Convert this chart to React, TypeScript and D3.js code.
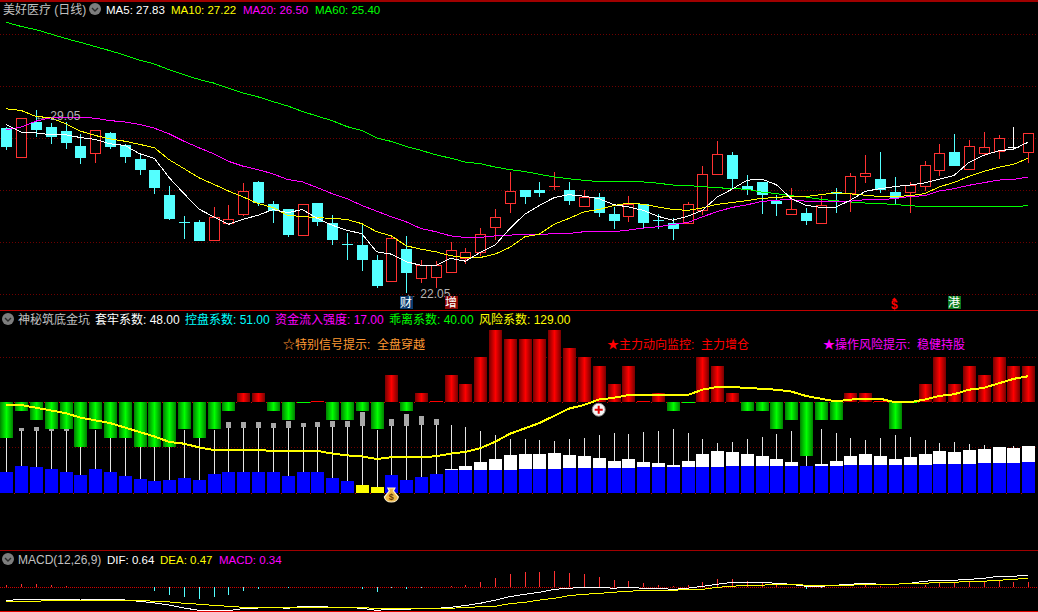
import React from "react";
import * as d3 from "d3";

// ---------- price panel (yuan) ----------
const open = [28.36,27.26,28.59,28.40,28.28,27.67,27.41,28.17,27.71,27.17,26.75,25.80,24.79,24.77,24.05,24.71,25.05,26.29,25.45,25.26,24.24,25.49,24.73,23.94,23.89,23.31,22.49,23.73,22.60,22.64,22.83,23.38,23.59,24.56,25.47,25.99,25.99,26.12,25.99,25.38,25.72,25.07,24.97,25.45,24.84,24.75,24.73,25.20,26.61,27.33,26.14,26.29,25.57,25.05,25.11,24.73,25.91,25.86,26.50,26.41,25.91,25.92,26.12,26.73,27.44,26.80,27.38,27.49,27.66,27.45];
const high = [28.43,28.73,29.05,28.56,28.59,28.13,28.27,28.24,27.78,27.33,26.75,26.14,24.99,24.84,25.34,25.41,26.26,26.33,25.57,25.26,25.44,25.49,25.03,24.34,24.71,23.50,24.24,24.23,23.31,23.26,24.00,23.77,24.54,25.26,26.68,25.99,26.29,26.68,26.29,25.99,25.87,25.34,25.76,25.45,25.07,24.92,25.53,26.91,27.86,27.44,26.56,26.29,25.80,26.06,25.30,25.76,26.06,26.64,27.36,27.44,26.49,26.29,27.10,27.75,28.13,27.90,28.24,28.09,28.43,28.15];
const low = [27.52,27.26,28.05,27.78,27.56,26.98,27.02,27.59,27.02,26.56,25.84,24.84,24.12,24.04,24.05,24.69,24.99,25.38,24.73,24.19,24.24,24.61,23.89,23.31,22.89,22.24,22.49,22.05,22.43,22.24,22.83,23.16,23.47,24.08,25.11,25.45,25.72,25.99,25.41,25.34,24.96,24.50,24.77,24.54,24.50,24.08,24.69,25.03,26.61,26.03,25.80,25.07,24.99,25.05,24.65,24.73,25.11,25.15,26.26,25.87,25.45,25.11,25.95,26.52,26.91,26.80,27.29,27.17,27.62,27.02];
const close = [27.63,28.73,28.31,28.05,27.82,27.21,28.27,27.63,27.25,26.75,26.06,24.88,24.78,24.04,24.94,24.87,25.95,25.49,25.19,24.27,25.44,24.77,24.08,23.90,23.31,22.32,24.14,22.82,23.11,23.11,23.68,23.61,24.29,24.96,25.95,25.72,25.87,26.14,25.57,25.71,25.11,24.80,25.44,24.73,24.82,24.50,25.44,26.60,27.35,26.41,25.99,25.80,25.45,25.25,24.80,25.40,25.84,26.51,26.62,25.99,25.68,26.17,26.93,27.39,26.91,27.67,27.62,27.96,27.66,28.15];
const ma5 = [28.50,28.22,28.19,28.12,28.12,28.01,27.94,27.77,27.71,27.39,27.21,26.47,25.86,25.27,24.97,24.68,24.88,25.03,25.25,25.13,25.25,24.91,24.65,24.45,24.33,23.63,23.54,23.25,23.11,23.10,23.38,23.27,23.61,23.89,24.52,25.07,25.41,25.71,25.82,25.76,25.67,25.44,25.35,25.22,24.99,24.84,24.99,25.22,25.73,26.03,26.37,26.42,26.20,25.67,25.41,25.33,25.34,25.61,25.95,26.05,26.13,26.19,26.27,26.41,26.56,27.06,27.33,27.50,27.57,27.83];
const ma10 = [29.11,29.05,28.82,28.77,28.54,28.26,28.09,27.96,27.87,27.75,27.62,27.16,26.82,26.47,26.22,25.96,25.73,25.48,25.33,25.03,24.98,24.94,24.91,24.87,24.71,24.40,24.24,23.86,23.73,23.63,23.48,23.40,23.41,23.54,23.80,24.20,24.31,24.69,24.91,25.16,25.25,25.40,25.50,25.45,25.35,25.25,25.22,25.31,25.45,25.52,25.59,25.68,25.71,25.76,25.75,25.82,25.90,25.85,25.80,25.75,25.75,25.78,25.86,26.12,26.29,26.52,26.71,26.87,26.98,27.22];
const ma20 = [28.31,28.41,28.64,28.77,28.77,28.79,28.75,28.66,28.61,28.51,28.37,28.15,27.87,27.62,27.39,27.10,26.91,26.78,26.62,26.40,26.31,26.09,25.86,25.67,25.41,25.19,24.97,24.78,24.52,24.40,24.24,24.18,24.18,24.24,24.27,24.29,24.29,24.33,24.33,24.40,24.40,24.40,24.46,24.54,24.59,24.68,24.75,24.97,25.17,25.33,25.43,25.56,25.61,25.63,25.57,25.56,25.57,25.57,25.63,25.63,25.67,25.75,25.78,25.96,26.05,26.18,26.28,26.38,26.40,26.50];
const ma60 = [32.43,32.27,32.15,31.98,31.81,31.66,31.50,31.34,31.17,30.98,30.83,30.61,30.42,30.24,30.10,29.90,29.72,29.57,29.39,29.22,29.01,28.83,28.66,28.43,28.28,28.00,27.86,27.67,27.52,27.35,27.22,27.07,27.01,26.88,26.78,26.71,26.60,26.50,26.43,26.37,26.32,26.32,26.32,26.31,26.26,26.19,26.17,26.13,26.09,26.05,26.03,25.92,25.86,25.78,25.73,25.64,25.59,25.54,25.50,25.48,25.44,25.40,25.36,25.36,25.36,25.36,25.36,25.36,25.36,25.40];
const priceGrid = [32,30,28,26,24,22];

// ---------- signal panel ----------
const signal = [-40,-10,-20,-30,-30,-50,-30,-40,-40,-50,-50,-50,-30,-40,-30,-10,10,10,-10,-20,-1,1,-20,-20,-10,-30,30,-10,10,1,30,20,50,80,70,70,70,80,60,50,40,20,40,1,10,-10,-1,50,40,10,-10,-10,-30,-20,-60,-20,-20,10,10,1,-30,-1,20,50,20,40,30,50,40,40];
const blueTop = [-77,-71,-72,-74,-77,-81,-74,-77,-82,-85,-87,-86,-84,-86,-80,-77,-77,-77,-77,-82,-77,-77,-84,-87,-92,-94,-81,-86,-83,-80,-75,-75,-75,-75,-75,-74,-74,-74,-73,-73,-73,-73,-73,-72,-72,-72,-72,-72,-72,-71,-71,-71,-71,-71,-71,-71,-71,-70,-70,-70,-70,-70,-70,-69,-69,-69,-67,-67,-67,-66];
const whiteTop: (number | null)[] = [null,null,null,null,null,null,null,null,null,null,null,null,null,null,null,null,null,null,null,null,null,null,null,null,null,null,null,null,null,null,-74,-71,-66,-63,-59,-57,-57,-56,-59,-60,-62,-65,-63,-66,-67,-70,-65,-57,-54,-55,-57,-60,-63,-66,null,-69,-65,-60,-57,-60,-63,-61,-57,-54,-55,-53,-52,-50,-51,-49];
const stickTop = [-31,-32,-32,-32,-32,-31,-31,-31,-31,-31,-31,-31,-31,-31,-31,-29,-29,-29,-29,-29,-27,-27,-27,-27,-26,-31,-26,-26,-25,-25,-25,-27,-32,-36,-41,-41,-42,-43,-41,-40,-36,-34,-35,-33,-32,-30,-34,-41,-45,-44,-41,-39,-35,-32,-31,-30,-34,-40,-42,-40,-36,-39,-42,-45,-44,-46,-47,-50,-49,-49];
const boxTop: (number | null)[] = [null,-29,-27,-29,-29,null,null,null,null,null,null,null,null,null,null,-22,-22,-22,-23,-21,-23,-22,-21,-21,-11,null,-19,-13,-15,-19,...Array(40).fill(null)];
const yellowLine = [-3,-3,-6,-9,-12,-17,-20,-23,-28,-33,-38,-44,-46,-50,-53,-53,-53,-53,-54,-54,-54,-54,-57,-59,-60,-63,-61,-61,-61,-60,-57,-55,-51,-44,-35,-29,-23,-15,-7,-3,3,5,8,8,8,8,8,14,17,17,16,15,14,12,7,4,1,3,4,4,0,0,3,7,9,14,16,21,26,29];
const lowAlarm = [24, 25]; // bars drawn yellow instead of blue
const signalGrid = [50, -50];
const BASE = -101;

// ---------- MACD panel ----------
const dif = [-0.70,-0.63,-0.63,-0.63,-0.63,-0.67,-0.63,-0.63,-0.67,-0.74,-0.82,-0.93,-1.09,-1.21,-1.23,-1.23,-1.12,-1.09,-1.05,-1.11,-1.00,-1.00,-1.05,-1.05,-1.11,-1.21,-1.16,-1.16,-1.11,-1.11,-1.05,-0.96,-0.84,-0.68,-0.49,-0.37,-0.26,-0.11,-0.05,0,0,-0.05,0,-0.05,-0.05,-0.11,-0.05,0.05,0.16,0.26,0.26,0.26,0.21,0.16,0.05,0.05,0.11,0.16,0.21,0.16,0.16,0.21,0.32,0.37,0.37,0.42,0.47,0.58,0.58,0.64];
const dea = [-0.74,-0.74,-0.74,-0.68,-0.68,-0.68,-0.68,-0.68,-0.68,-0.68,-0.74,-0.77,-0.84,-0.89,-0.95,-1.00,-1.05,-1.05,-1.05,-1.05,-1.05,-1.05,-1.05,-1.05,-1.07,-1.11,-1.11,-1.11,-1.11,-1.11,-1.11,-1.05,-1.03,-1.00,-0.86,-0.79,-0.67,-0.58,-0.44,-0.37,-0.32,-0.26,-0.21,-0.16,-0.16,-0.16,-0.11,-0.11,0,0.05,0.11,0.11,0.16,0.16,0.11,0.11,0.11,0.11,0.16,0.16,0.16,0.21,0.21,0.26,0.26,0.32,0.32,0.37,0.42,0.47];
const macd = [0.11,0.16,0.16,0.11,0.05,0,0,0.04,0,0,-0.18,-0.40,-0.49,-0.60,-0.49,-0.40,-0.18,-0.07,0,-0.05,0.04,0,0,0,-0.07,-0.25,-0.05,-0.09,-0.05,0,0.05,0.12,0.28,0.49,0.70,0.79,0.81,0.86,0.75,0.70,0.54,0.39,0.33,0.23,0.12,0.05,0.12,0.28,0.44,0.44,0.33,0.23,0.12,0,-0.09,-0.05,0,0.04,0.12,0.07,0,0,0.12,0.23,0.26,0.28,0.28,0.33,0.28,0.28];

// ---------- labels ----------
type Lbl = [string, number, string];
const priceLegend: Lbl[] = [["MA5: 27.83",106,"#ffffff"],["MA10: 27.22",171,"#ffff00"],["MA20: 26.50",243,"#ff00ff"],["MA60: 25.40",315,"#00ff00"]];
const signalLegend: Lbl[] = [["套牢系数: 48.00",95,"#ffffff"],["控盘系数: 51.00",185,"#00ffff"],["资金流入强度: 17.00",275,"#ff00ff"],["乖离系数: 40.00",389,"#00ff00"],["风险系数: 129.00",479,"#ffff00"]];
const hints: Lbl[] = [["☆特别信号提示:  全盘穿越",283,"#ff9933"],["★主力动向监控:  主力增仓",607,"#ff0000"],["★操作风险提示:  稳健持股",823,"#ff00ff"]];
const macdLegend: Lbl[] = [["DIF: 0.64",107,"#ffffff"],["DEA: 0.47",160,"#ffff00"],["MACD: 0.34",219,"#ff00ff"]];
const badges: [string, number, string][] = [["财",27,"#0a3a6e"],["增",30,"#8a0505"],["港",64,"#0b7a1c"]];

const W = 1038, H = 612;
const RED = "#ff3232", CYAN = "#54ffff", GRID = "#6e0000";
const FONT = "'Liberation Sans','Noto Sans CJK SC',sans-serif";

const x = d3.scaleLinear([0, 69], [6.3, 1028.2]);
const px = (i: number) => Math.round(x(i));
const yP = d3.scaleLinear([22, 32], [294.3, 33.5]);
const yS = d3.scaleLinear([-100, 50], [492.3, 357.3]);
const yM = d3.scaleLinear([-1, 1], [606.3, 568.3]);

const linePath = (vals: number[], y: (v: number) => number) =>
  d3.line<number>().x((_, i) => x(i)).y(v => y(v))(vals) ?? "";

function Arrow({ cx, cy }: { cx: number; cy: number }) {
  return (
    <g>
      <circle cx={cx} cy={cy} r={6} fill="#7d7d7d" />
      <path d={`M${cx - 3} ${cy - 1}L${cx} ${cy + 2}L${cx + 3} ${cy - 1}`} fill="none" stroke="#2a2a2a" strokeWidth={1.4} />
    </g>
  );
}

const T = ({ s, at, y, c, size = 12 }: { s: string; at: number; y: number; c: string; size?: number }) => (
  <text x={at} y={y} fill={c} fontSize={size} fontFamily={FONT} style={{ whiteSpace: "pre" }}>{s}</text>
);

const DotGrid = ({ y, fill }: { y: number; fill: string }) => (
  <rect x={0} y={Math.round(y)} width={W} height={1} fill={fill} shapeRendering="crispEdges" />
);

export default function App() {
  return (
    <svg width={W} height={H} viewBox={`0 0 ${W} ${H}`} style={{ position: "absolute", left: 0, top: 0, display: "block", background: "#000" }}>
      <defs>
        <linearGradient id="gGreen"><stop offset="0" stopColor="#008000" /><stop offset="0.5" stopColor="#00ff00" /><stop offset="1" stopColor="#008000" /></linearGradient>
        <linearGradient id="gRed"><stop offset="0" stopColor="#780000" /><stop offset="0.5" stopColor="#ff0000" /><stop offset="1" stopColor="#780000" /></linearGradient>
        <pattern id="dots3" width={3} height={1} patternUnits="userSpaceOnUse"><rect width={1} height={1} fill={GRID} /></pattern>
        <pattern id="dots2" width={2} height={1} patternUnits="userSpaceOnUse"><rect width={1} height={1} fill="#d00000" /></pattern>
      </defs>
      <rect width={W} height={H} fill="#000" />

      {/* frames */}
      <g shapeRendering="crispEdges">
        <rect x={0} y={0} width={W} height={1.5} fill="#a00000" />
        <rect x={0} y={310} width={W} height={1} fill="#c00000" />
        <rect x={0} y={550} width={W} height={1} fill="#a00000" />
        <rect x={0} y={611} width={W} height={1} fill="#e00000" />
      </g>

      {/* price panel */}
      {priceGrid.map(p => <DotGrid key={p} y={yP(p)} fill="url(#dots3)" />)}
      <g shapeRendering="crispEdges">
        {open.map((o, i) => {
          const c = close[i];
          const col = o === c ? "#ffffff" : c > o ? RED : CYAN;
          const top = yP(Math.max(o, c)), bot = yP(Math.min(o, c));
          const cx = px(i);
          return (
            <g key={i}>
              <line x1={cx + 0.5} x2={cx + 0.5} y1={yP(high[i])} y2={yP(low[i])} stroke={col} />
              {c > o
                ? <rect x={cx - 4.5} y={top} width={10} height={bot - top} fill="#000" stroke={col} />
                : <rect x={cx - 5} y={top} width={11} height={Math.max(bot - top, 1)} fill={col} />}
            </g>
          );
        })}
        {([[ma60, "#00ff00"], [ma20, "#ff00ff"], [ma10, "#ffff00"], [ma5, "#ffffff"]] as [number[], string][]).map(([v, c]) => (
          <path key={c} d={linePath(v, yP)} fill="none" stroke={c} strokeWidth={1} />
        ))}
      </g>
      <T s="美好医疗 (日线)" at={3} y={14} c="#c0c0c0" />
      <Arrow cx={95} cy={9} />
      {priceLegend.map(([s, at, c]) => <T key={s} s={s} at={at} y={14} c={c} size={11.5} />)}
      <T s="← 29.05" at={35} y={120} c="#b4b4b4" />
      <T s="← 22.05" at={405} y={298} c="#b4b4b4" />
      {badges.map(([s, i, c]) => (
        <g key={s}>
          <rect x={px(i) - 6.5} y={296} width={13} height={13} fill={c} shapeRendering="crispEdges" />
          <text x={px(i)} y={307} textAnchor="middle" fill="#fff" fontSize={12} fontFamily={FONT}>{s}</text>
        </g>
      ))}
      <path d={`M${x(60) - 0.5} 297.5l2.5 2.5h-5z`} fill="#ff0000" />
      <text x={x(60) - 0.5} y={309} textAnchor="middle" fill="#ff0000" fontSize={12} fontWeight="bold" fontFamily={FONT}>$</text>

      {/* signal panel */}
      {signalGrid.map(v => <DotGrid key={v} y={yS(v)} fill="url(#dots3)" />)}
      <g shapeRendering="crispEdges">
        {signal.map((_, i) => (
          <g key={i}>
            <line x1={px(i) - 7.5} x2={px(i) - 6.5} y1={yS(0) + 0.5} y2={yS(0) + 0.5} stroke="#d00000" />
            <line x1={px(i) - 7.5} x2={px(i) - 6.5} y1={yS(BASE) + 0.5} y2={yS(BASE) + 0.5} stroke="#d00000" />
            <line x1={px(i) + 0.5} x2={px(i) + 0.5} y1={yS(stickTop[i])} y2={yS(whiteTop[i] ?? blueTop[i])} stroke="#e6e6e6" />
            {boxTop[i] != null && <rect x={px(i) - 2} y={yS(boxTop[i] as number)} width={5} height={yS(stickTop[i]) - yS(boxTop[i] as number)} fill="#a8a8a8" />}
          </g>
        ))}
        {blueTop.map((v, i) => (
          <g key={i}>
            {whiteTop[i] != null && <rect x={px(i) - 6} y={yS(whiteTop[i] as number)} width={13} height={yS(v) - yS(whiteTop[i] as number)} fill="#ffffff" />}
            <rect x={px(i) - 6} y={yS(v)} width={13} height={yS(BASE) - yS(v)} fill={lowAlarm.includes(i) ? "#ffff00" : "#0000ff"} />
          </g>
        ))}
        {signal.map((v, i) => (
          <rect key={i} x={px(i) - 6} y={v > 0 ? yS(v) : yS(0)} width={13} height={Math.max(Math.abs(yS(v) - yS(0)), 1)} fill={Math.abs(v) === 1 ? (v > 0 ? "#ff0000" : "#00ff00") : v > 0 ? "url(#gRed)" : "url(#gGreen)"} />
        ))}
      </g>
      <path d={linePath(yellowLine, yS)} fill="none" stroke="#ffff00" strokeWidth={2} shapeRendering="crispEdges" />
      <Arrow cx={8} cy={319} />
      <T s="神秘筑底金坑" at={18} y={324} c="#c0c0c0" />
      {signalLegend.map(([s, at, c]) => <T key={s} s={s} at={at} y={324} c={c} />)}
      {hints.map(([s, at, c]) => <T key={s} s={s} at={at} y={349} c={c} />)}
      {/* buy marker */}
      <g>
        <circle cx={x(40)} cy={409.7} r={6.5} fill="#f4f4f4" stroke="#8a8a8a" />
        <path d={`M${x(40) - 4} 409.7H${x(40) + 4}M${x(40)} 405.7V413.7`} stroke="#e00000" strokeWidth={2} />
      </g>
      {/* money bag */}
      <g>
        <path d={`M${x(26) - 3.5} 488L${x(26) + 3.5} 488L${x(26) + 2} 491L${x(26) + 7} 497Q${x(26) + 6} 502 ${x(26)} 502Q${x(26) - 6} 502 ${x(26) - 7} 497L${x(26) - 2} 491Z`} fill="#f0b848" stroke="#fff0c8" strokeWidth={1.2} />
        <text x={x(26)} y={500} textAnchor="middle" fontSize={9} fontWeight="bold" fill="#6a3a00" fontFamily={FONT}>$</text>
      </g>

      {/* MACD panel */}
      <DotGrid y={yM(0)} fill="url(#dots2)" />
      <g shapeRendering="crispEdges">
        {macd.map((v, i) => v !== 0 && (
          <line key={i} x1={px(i) + 0.5} x2={px(i) + 0.5} y1={yM(0)} y2={yM(v)} stroke={v > 0 ? RED : CYAN} />
        ))}
        <path d={linePath(dif, yM)} fill="none" stroke="#ffffff" />
        <path d={linePath(dea, yM)} fill="none" stroke="#ffff00" />
      </g>
      <Arrow cx={8} cy={559} />
      <T s="MACD(12,26,9)" at={18} y={564} c="#c0c0c0" />
      {macdLegend.map(([s, at, c]) => <T key={s} s={s} at={at} y={564} c={c} size={11.5} />)}
    </svg>
  );
}
